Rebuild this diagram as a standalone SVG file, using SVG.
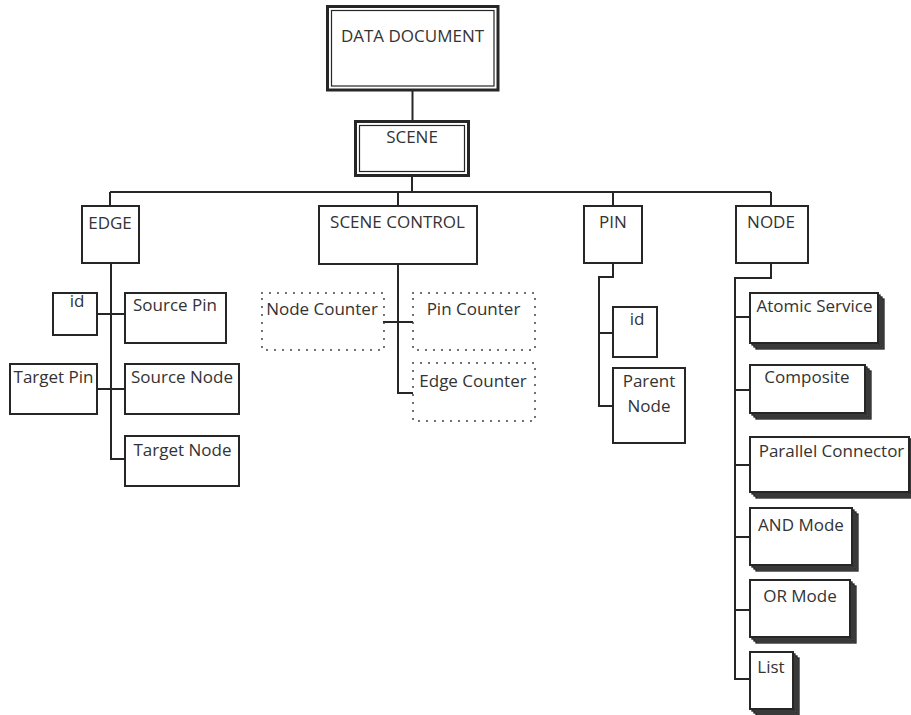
<svg xmlns="http://www.w3.org/2000/svg" width="911" height="715" viewBox="0 0 911 715">
  <style>
    text { font-family: "Open Sans", "Liberation Sans", sans-serif; font-size: 17px; fill: #333; text-anchor: middle; }
    .box { fill: #fff; stroke: #262626; stroke-width: 2; }
    .outer { fill: #fff; stroke: #262626; stroke-width: 3; }
    .inner { fill: none; stroke: #262626; stroke-width: 1.2; }
    .dot { fill: none; stroke: #444; stroke-width: 2; stroke-dasharray: 0 8; stroke-linecap: round; }
    .sh { fill: #666; stroke: #222; stroke-width: 1.3; }
    .wire { fill: none; stroke: #262626; stroke-width: 2; }
  </style>

  <!-- connectors -->
  <g id="connectors" class="wire">
    <path d="M412.5 90 V121.5"/>
    <path d="M412 175.5 V192"/>
    <path d="M110 192 H771"/>
    <path d="M110 192 V206 M398 192 V206 M613 192 V206 M771 192 V206"/>
    <!-- EDGE branch -->
    <path d="M111 263 V459 H125"/>
    <path d="M97 314 H125 M97 389 H125"/>
    <!-- SCENE CONTROL branch -->
    <path d="M398 264 V393 H413"/>
    <path d="M383 322 H413"/>
    <!-- PIN branch -->
    <path d="M613 263 V277 H599 V406 H613"/>
    <path d="M599 333 H613"/>
    <!-- NODE branch -->
    <path d="M771 263 V278 H735 V679 H750"/>
    <path d="M735 317 H750 M735 390 H750 M735 465 H750 M735 537 H750 M735 610 H750"/>
  </g>

  <!-- top level -->
  <g id="data-document">
    <rect class="outer" x="327.5" y="6.5" width="170.5" height="83.5"/>
    <rect class="inner" x="331.5" y="10.5" width="162.5" height="75.5"/>
    <text x="412.5" y="42">DATA DOCUMENT</text>
  </g>
  <g id="scene">
    <rect class="outer" x="355.5" y="121.5" width="113" height="54"/>
    <rect class="inner" x="359.5" y="125.5" width="105" height="46"/>
    <text x="412" y="143">SCENE</text>
  </g>

  <!-- EDGE -->
  <g id="edge">
    <rect class="box" x="82" y="206" width="57" height="57"/>
    <text x="110" y="229">EDGE</text>
  </g>
  <g id="edge-id">
    <rect class="box" x="53" y="293" width="44" height="42"/>
    <text x="77" y="307">id</text>
  </g>
  <g id="source-pin">
    <rect class="box" x="125" y="293" width="101" height="50"/>
    <text x="175" y="311">Source Pin</text>
  </g>
  <g id="target-pin">
    <rect class="box" x="10" y="364" width="87" height="50"/>
    <text x="53.5" y="383">Target Pin</text>
  </g>
  <g id="source-node">
    <rect class="box" x="125" y="364" width="114" height="50"/>
    <text x="182" y="383">Source Node</text>
  </g>
  <g id="target-node">
    <rect class="box" x="125" y="436" width="114" height="50"/>
    <text x="182.5" y="456">Target Node</text>
  </g>

  <!-- SCENE CONTROL -->
  <g id="scene-control">
    <rect class="box" x="319" y="206" width="158" height="58"/>
    <text x="397.5" y="228">SCENE CONTROL</text>
  </g>
  <g id="node-counter">
    <rect class="dot" x="262" y="293" width="122" height="57"/>
    <text x="322" y="315">Node Counter</text>
  </g>
  <g id="pin-counter">
    <rect class="dot" x="413" y="293" width="122" height="57"/>
    <text x="473.5" y="315">Pin Counter</text>
  </g>
  <g id="edge-counter">
    <rect class="dot" x="413" y="363" width="122" height="58"/>
    <text x="473" y="387">Edge Counter</text>
  </g>

  <!-- PIN -->
  <g id="pin">
    <rect class="box" x="584" y="206" width="58" height="57"/>
    <text x="613" y="228">PIN</text>
  </g>
  <g id="pin-id">
    <rect class="box" x="613" y="307" width="44" height="50"/>
    <text x="637" y="325">id</text>
  </g>
  <g id="parent-node">
    <rect class="box" x="613" y="368" width="72" height="75"/>
    <text x="649" y="387">Parent</text>
    <text x="649" y="412">Node</text>
  </g>

  <!-- NODE -->
  <g id="node">
    <rect class="box" x="736" y="206" width="72" height="57"/>
    <text x="771" y="228">NODE</text>
  </g>
  <g id="atomic-service">
    <rect class="sh" x="756" y="299" width="128" height="50"/>
    <rect class="sh" x="754" y="297" width="128" height="50"/>
    <rect class="sh" x="752" y="295" width="128" height="50"/>
    <rect class="box" x="750" y="293" width="128" height="50"/>
    <text x="814.5" y="312">Atomic Service</text>
  </g>
  <g id="composite">
    <rect class="sh" x="756" y="371" width="115" height="48"/>
    <rect class="sh" x="754" y="369" width="115" height="48"/>
    <rect class="sh" x="752" y="367" width="115" height="48"/>
    <rect class="box" x="750" y="365" width="115" height="48"/>
    <text x="807" y="383">Composite</text>
  </g>
  <g id="parallel-connector">
    <rect class="sh" x="756" y="443" width="159" height="55"/>
    <rect class="sh" x="754" y="441" width="159" height="55"/>
    <rect class="sh" x="752" y="439" width="159" height="55"/>
    <rect class="box" x="750" y="437" width="159" height="55"/>
    <text x="831.5" y="457">Parallel Connector</text>
  </g>
  <g id="and-mode">
    <rect class="sh" x="756" y="514" width="102" height="57"/>
    <rect class="sh" x="754" y="512" width="102" height="57"/>
    <rect class="sh" x="752" y="510" width="102" height="57"/>
    <rect class="box" x="750" y="508" width="102" height="57"/>
    <text x="801" y="531">AND Mode</text>
  </g>
  <g id="or-mode">
    <rect class="sh" x="756" y="586" width="100" height="57"/>
    <rect class="sh" x="754" y="584" width="100" height="57"/>
    <rect class="sh" x="752" y="582" width="100" height="57"/>
    <rect class="box" x="750" y="580" width="100" height="57"/>
    <text x="800" y="602">OR Mode</text>
  </g>
  <g id="list">
    <rect class="sh" x="756" y="658" width="43" height="57"/>
    <rect class="sh" x="754" y="656" width="43" height="57"/>
    <rect class="sh" x="752" y="654" width="43" height="57"/>
    <rect class="box" x="750" y="652" width="43" height="57"/>
    <text x="771" y="673">List</text>
  </g>
</svg>
